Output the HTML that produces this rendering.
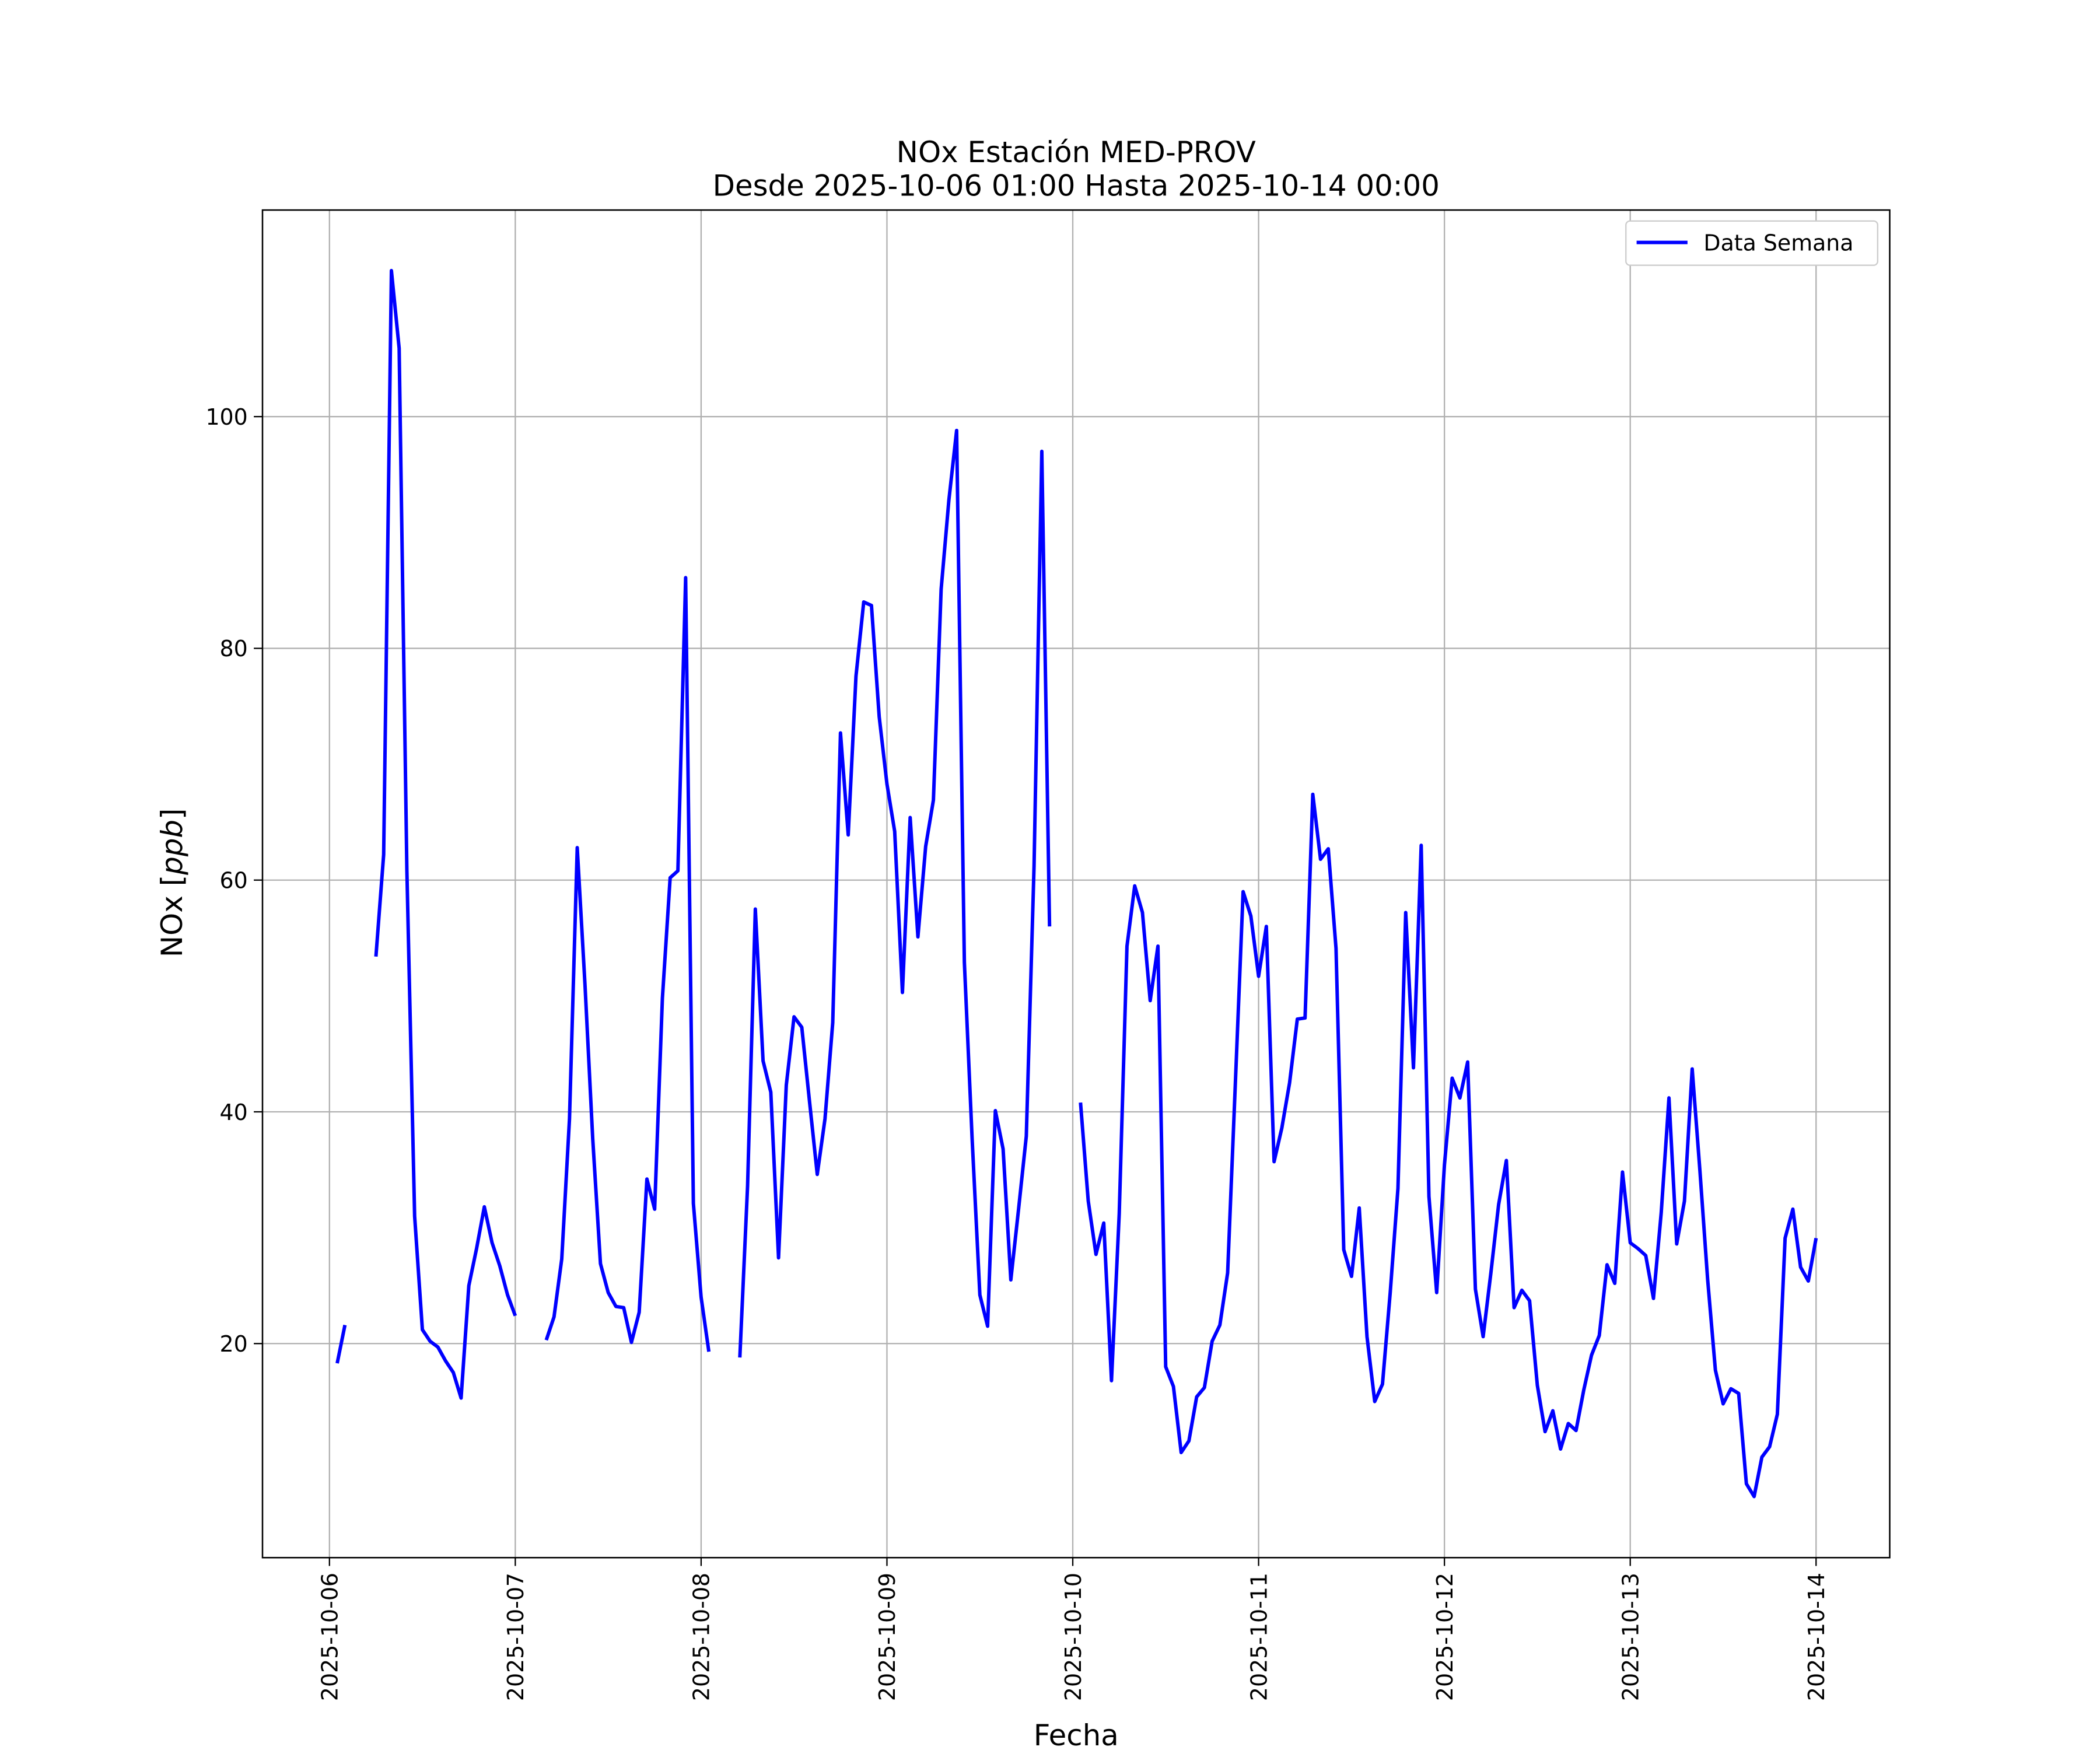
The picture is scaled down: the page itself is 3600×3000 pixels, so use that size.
<!DOCTYPE html>
<html><head><meta charset="utf-8">
<style>html,body{margin:0;padding:0;background:#fff}svg{display:block}text{font-family:"DejaVu Sans","Liberation Sans",sans-serif;fill:#000}</style>
</head><body>
<svg id="chart" xmlns="http://www.w3.org/2000/svg" width="3600" height="3000" viewBox="0 0 1568 1306.4" preserveAspectRatio="none">
<rect x="0" y="0" width="1568" height="1307" fill="#fff"/>
<g id="grid"></g>
<g id="series"></g>
<rect x="196" y="156.8" width="1215" height="1006" fill="none" stroke="#000" stroke-width="1.1"/>
<g id="xticks"></g>
<g id="yticks"></g>
<text x="803.5" y="121" font-size="21.7" text-anchor="middle">NOx Estación MED-PROV</text>
<text x="803.5" y="146" font-size="21.7" text-anchor="middle">Desde 2025-10-06 01:00 Hasta 2025-10-14 00:00</text>
<text x="803.5" y="1303" font-size="21.7" text-anchor="middle">Fecha</text>
<text transform="translate(136,659) rotate(-90)" font-size="21.7" text-anchor="middle">NOx [<tspan font-style="italic">ppb</tspan>]</text>
<g>
<rect x="1214" y="165" width="188" height="33" rx="3" fill="#fff" stroke="#ccc"/>
<line x1="1222" y1="181" x2="1260" y2="181" stroke="#0000ff" stroke-width="2.6"/>
<text x="1272" y="187" font-size="16.5">Data Semana</text>
</g>
</svg>
<script>
const hours = [];
for (let h = 1; h <= 192; h++) hours.push(h);
const values = [18.3,21.6,null,null,null,53.4,62.2,112.6,105.9,60.8,31,21.2,20.2,19.7,18.5,17.5,15.3,25,28.2,31.8,28.7,26.7,24.2,22.4,
null,null,null,20.3,22.3,27.3,39.4,62.8,51,37.7,26.9,24.4,23.2,23.1,20.1,22.7,34.2,31.6,49.8,60.2,60.8,86.1,32.1,24,19.3,
null,null,null,18.8,33.6,57.5,44.4,41.7,27.4,42.3,48.2,47.3,40.9,34.6,39.4,47.7,72.7,63.9,77.6,84,83.7,74.1,68.3,64.2,50.3,65.4,55.1,62.9,66.9,85.1,92.8,98.8,52.9,37.7,24.2,21.5,40.1,36.8,25.5,31.6,37.9,61.2,97,56,
null,null,null,40.8,32.3,27.7,30.4,16.8,31.2,54.3,59.5,57.2,49.6,54.3,18,16.3,10.6,11.6,15.4,16.2,20.2,21.6,26.1,42.5,59,56.9,51.7,56,35.7,38.6,42.5,48,48.1,67.4,61.8,62.7,54.1,28.1,25.8,31.7,20.6,15,16.5,24.4,33.4,57.2,43.8,63,32.7,24.4,35.4,42.9,41.2,44.3,24.7,20.6,26.1,32,35.8,23.1,24.6,23.7,16.4,12.4,14.2,10.9,13.1,12.5,16,19,20.7,26.8,25.2,34.8,28.7,28.2,27.6,23.9,31.3,41.2,28.6,32.3,43.7,34.9,25.5,17.7,14.8,16.1,15.7,7.9,6.8,10.2,11.1,13.9,29.1,31.6,26.6,25.4,29.1];
const xTickLabels = ['2025-10-06','2025-10-07','2025-10-08','2025-10-09','2025-10-10','2025-10-11','2025-10-12','2025-10-13','2025-10-14'];
const yTickValues = [20,40,60,80,100];

const NS = 'http://www.w3.org/2000/svg';
const X0 = 246, DAYPX = 138.75;
const xScale = h => X0 + h * DAYPX / 24;
const yScale = v => 1003 - (v - 20) * (1003 - 311) / 80;
function mk(tag, attrs, parent) { const e = document.createElementNS(NS, tag); for (const k in attrs) e.setAttribute(k, attrs[k]); parent.appendChild(e); return e; }
const grid = document.getElementById('grid'), xt = document.getElementById('xticks'), yt = document.getElementById('yticks'), ser = document.getElementById('series');

xTickLabels.forEach((lab, i) => {
  const x = xScale(i * 24);
  const g = mk('line', {x1: x, x2: x, y1: 156.8, y2: 1162.8, stroke: '#b0b0b0', 'stroke-width': 1}, grid);
  
  
  const t = mk('line', {x1: x, x2: x, y1: 1162.8, y2: 1169, stroke: '#000', 'stroke-width': 1}, xt);
  
  
  const tx = mk('text', {transform: `translate(${x + 6},1174) rotate(-90)`, 'font-size': 16.5, 'text-anchor': 'end'}, xt);
  tx.textContent = lab;
  
  
});
yTickValues.forEach(v => {
  const y = yScale(v);
  const g = mk('line', {x1: 196, x2: 1411, y1: y, y2: y, stroke: '#b0b0b0', 'stroke-width': 1}, grid);
  
  
  const t = mk('line', {x1: 189.5, x2: 196, y1: y, y2: y, stroke: '#000', 'stroke-width': 1}, yt);
  
  
  const tx = mk('text', {x: 185, y: y + 6, 'font-size': 16.5, 'text-anchor': 'end'}, yt);
  tx.textContent = v;
  
  
});
let d = '', pen = false;
hours.forEach((h, i) => {
  const v = values[i];
  if (v === null || v === undefined) { pen = false; return; }
  d += (pen ? 'L' : 'M') + xScale(h).toFixed(2) + ',' + yScale(v).toFixed(2);
  pen = true;
});
const p = mk('path', {d: d, fill: 'none', stroke: '#0000ff', 'stroke-width': 2.6, 'stroke-linejoin': 'round'}, ser);


</script>
</body></html>
